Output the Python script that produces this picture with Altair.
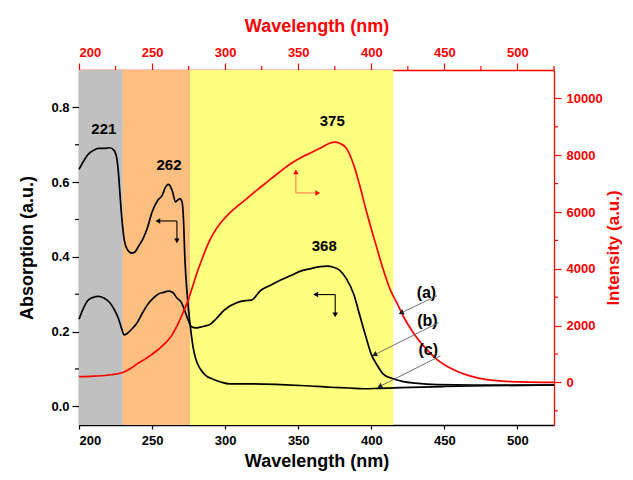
import math
import altair as alt
import pandas as pd

# ---------------- data ----------------
# curve (a): fluorescence intensity (red, top/right axes)
wl_a = [200, 210, 222, 230, 235, 240, 247, 254, 259, 263, 267, 270, 274, 277, 281, 285, 288,
        292, 297, 303, 309, 315, 322, 329, 337, 345, 352, 360, 367, 372, 375, 378, 383, 388,
        392, 396, 400, 404, 408, 413, 418, 422, 428, 434, 440, 445, 452, 459, 468, 479, 495, 525]
int_a = [200, 220, 270, 350, 480, 660, 880, 1150, 1380, 1620, 1980, 2320, 2800, 3260, 3900, 4450, 4840,
         5250, 5620, 5960, 6230, 6480, 6780, 7070, 7400, 7710, 7920, 8120, 8300, 8430, 8460, 8430, 8240, 7650,
         6950, 6150, 5400, 4700, 4000, 3260, 2750, 2320, 1800, 1385, 1050, 800, 560, 387, 220, 95, 30, 0]

# curve (b): absorption with 368 nm band
wl_b = [200, 203, 206, 210, 213, 217, 221, 224, 227, 229, 231, 233, 236, 240, 243, 248, 251, 254, 258,
        261, 264, 267, 270, 272, 274, 277, 280, 283, 286, 290, 294, 299, 303, 306, 310, 314, 318, 320,
        322, 324, 330, 338, 345, 351, 358, 365, 370, 374, 378, 383, 388, 392, 396, 400, 404, 408, 414,
        422, 430, 445, 470, 500, 525]
abs_b = [0.233, 0.262, 0.283, 0.292, 0.294, 0.29, 0.278, 0.26, 0.235, 0.21, 0.191, 0.195, 0.206, 0.225,
         0.247, 0.278, 0.29, 0.30, 0.305, 0.308, 0.305, 0.29, 0.278, 0.26, 0.238, 0.213, 0.21, 0.212, 0.215,
         0.22, 0.235, 0.256, 0.268, 0.274, 0.28, 0.283, 0.284, 0.29, 0.3, 0.309, 0.322, 0.338, 0.35, 0.361,
         0.368, 0.374, 0.375, 0.372, 0.365, 0.341, 0.3, 0.245, 0.19, 0.139, 0.11, 0.087, 0.075, 0.066,
         0.062, 0.058, 0.057, 0.057, 0.057]

# curve (c): absorption with 221 / 262 nm bands
wl_c = [200, 203, 206, 210, 213, 217, 221, 224, 226, 227, 228, 229, 230, 231, 233, 236, 238, 241, 244,
        247, 250, 254, 257, 259, 261, 262, 264, 266, 267, 269, 270.5, 271.5, 272.4, 274, 276, 278, 280,
        283, 286, 292, 297, 303, 320, 338, 355, 372, 385, 395, 405, 420, 450, 480, 525]
abs_c = [0.634, 0.655, 0.673, 0.685, 0.69, 0.69, 0.692, 0.685, 0.66, 0.624, 0.57, 0.517, 0.475, 0.444,
         0.42, 0.41, 0.412, 0.43, 0.45, 0.48, 0.52, 0.552, 0.565, 0.585, 0.594, 0.592, 0.574, 0.547, 0.55,
         0.556, 0.547, 0.5, 0.40, 0.3, 0.22, 0.16, 0.125, 0.1, 0.085, 0.072, 0.065, 0.06, 0.06, 0.058,
         0.055, 0.051, 0.049, 0.047, 0.048, 0.05, 0.053, 0.055, 0.057]

# shaded regions
band_start = [200, 230, 276]
band_end = [230, 276, 415]
band_color = ["#C0C0C0", "#FFBF80", "#FFFF80"]

# peak labels (absorption coordinates)
peak_text = ["221", "262", "375", "368"]
peak_x = [217, 261.6, 373.3, 367.8]
peak_y = [0.743, 0.646, 0.764, 0.428]

# curve labels and pointers
lab_text = ["(a)", "(b)", "(c)"]
lab_x = [437.7, 438.4, 439.0]
lab_y = [0.304, 0.229, 0.151]
ptr_x0 = [444.9, 446.1, 447.3]
ptr_y0 = [0.296, 0.224, 0.135]
ptr_x1 = [420.9, 402.7, 406.2]
ptr_y1 = [0.251, 0.139, 0.054]

# axis indicator arrows (segments: x0, y0, x1, y1, colour)
ind_x0 = [267, 267, 375.3, 375.3, 348.4, 348.4]
ind_y0 = [0.496, 0.496, 0.299, 0.299, 0.571, 0.571]
ind_x1 = [254.5, 267, 362.5, 375.3, 348.4, 362.8]
ind_y1 = [0.496, 0.445, 0.299, 0.247, 0.625, 0.571]
ind_col = ["black", "black", "black", "black", "#FF7F50", "#FF7F50"]
ind_head = ["black", "black", "black", "black", "red", "red"]

x_major = [200, 250, 300, 350, 400, 450, 500]
x_minor = [225, 275, 325, 375, 425, 475, 525]
yl_major = [0.0, 0.2, 0.4, 0.6, 0.8]
yl_minor = [0.1, 0.3, 0.5, 0.7]
yr_major = [0, 2000, 4000, 6000, 8000, 10000]
yr_minor = [-1000, 1000, 3000, 5000, 7000, 9000]

XD = [200, 525]
YL = [-0.05, 0.9]
YR = [-1500, 11000]
W, H = 475, 355
FONT = "Liberation Sans"
RED = "#FF0000"


def xs():
    return alt.Scale(domain=XD, nice=False, zero=False)


def yls():
    return alt.Scale(domain=YL, nice=False, zero=False)


def yrs():
    return alt.Scale(domain=YR, nice=False, zero=False)


def angle(x0, y0, x1, y1):
    dx = (x1 - x0) * W / (XD[1] - XD[0])
    dy = -(y1 - y0) * H / (YL[1] - YL[0])
    return math.degrees(math.atan2(dx, -dy)) % 360


# ---------------- layers ----------------
bands = alt.Chart(pd.DataFrame({"x0": band_start, "x1": band_end, "c": band_color})).mark_rect().encode(
    x=alt.X("x0:Q", scale=xs(), axis=None),
    x2="x1:Q",
    color=alt.Color("c:N", scale=None, legend=None),
)

df_bc = pd.concat([
    pd.DataFrame({"wl": wl_b, "A": abs_b, "s": "b"}),
    pd.DataFrame({"wl": wl_c, "A": abs_c, "s": "c"}),
])

axis_common = dict(
    labelFont=FONT, labelFontSize=13, labelFontWeight="bold",
    titleFont=FONT, titleFontWeight="bold",
    grid=False, domainWidth=1.3, tickWidth=1.2,
)

black = alt.Chart(df_bc).mark_line(color="black", strokeWidth=1.7, interpolate="monotone").encode(
    x=alt.X("wl:Q", scale=xs(), axis=alt.Axis(
        orient="bottom", values=x_major, format="d", title="Wavelength (nm)",
        domainColor="black", tickColor="black", labelColor="black", titleColor="black",
        tickSize=4, labelPadding=5, titlePadding=5, titleFontSize=18, **axis_common)),
    y=alt.Y("A:Q", scale=yls(), axis=alt.Axis(
        orient="left", values=yl_major, format=".1f", title="Absorption (a.u.)",
        domainColor="black", tickColor="black", labelColor="black", titleColor="black",
        tickSize=7, labelPadding=3, titlePadding=14, titleFontSize=18, **axis_common)),
    detail="s:N",
)

red = alt.Chart(pd.DataFrame({"wl": wl_a, "I": int_a})).mark_line(
    color=RED, strokeWidth=1.7, interpolate="monotone").encode(
    x=alt.X("wl:Q", scale=xs(), axis=alt.Axis(
        orient="top", values=x_major, format="d", title="Wavelength (nm)",
        domainColor=RED, tickColor=RED, labelColor=RED, titleColor=RED,
        tickSize=7, labelPadding=4, titlePadding=11, titleFontSize=18, **axis_common)),
    y=alt.Y("I:Q", scale=yrs(), axis=alt.Axis(
        orient="right", values=yr_major, format="d", title="Intensity (a.u.)",
        domainColor=RED, tickColor=RED, labelColor=RED, titleColor=RED,
        tickSize=7, labelPadding=5, titlePadding=3, titleFontSize=17,
        titleAngle=270, titleBaseline="top", **axis_common)),
)

minor_left = alt.Chart(pd.DataFrame({"v": yl_minor})).mark_rule(color="black", strokeWidth=1.2).encode(
    y=alt.Y("v:Q", scale=yls(), axis=None), x=alt.value(-4), x2=alt.value(0))
minor_right = alt.Chart(pd.DataFrame({"v": yr_minor})).mark_rule(color=RED, strokeWidth=1.2).encode(
    y=alt.Y("v:Q", scale=yrs(), axis=None), x=alt.value(W), x2=alt.value(W + 4))
minor_top = alt.Chart(pd.DataFrame({"v": x_minor})).mark_rule(color=RED, strokeWidth=1.2).encode(
    x=alt.X("v:Q", scale=xs(), axis=None), y=alt.value(-4), y2=alt.value(0))

peaks = alt.Chart(pd.DataFrame({"t": peak_text, "x": peak_x, "y": peak_y})).mark_text(
    font=FONT, fontSize=15, fontWeight="bold", color="black").encode(
    x=alt.X("x:Q", scale=xs(), axis=None), y=alt.Y("y:Q", scale=yls(), axis=None), text="t:N")

labels = alt.Chart(pd.DataFrame({"t": lab_text, "x": lab_x, "y": lab_y})).mark_text(
    font=FONT, fontSize=16, fontWeight="bold", color="black").encode(
    x=alt.X("x:Q", scale=xs(), axis=None), y=alt.Y("y:Q", scale=yls(), axis=None), text="t:N")

df_ptr = pd.DataFrame({"x0": ptr_x0, "y0": ptr_y0, "x1": ptr_x1, "y1": ptr_y1})
df_ptr["ang"] = [angle(a, b, c, d) for a, b, c, d in zip(ptr_x0, ptr_y0, ptr_x1, ptr_y1)]
pointers = alt.Chart(df_ptr).mark_rule(color="#606060", strokeWidth=0.9).encode(
    x=alt.X("x0:Q", scale=xs(), axis=None), y=alt.Y("y0:Q", scale=yls(), axis=None),
    x2="x1:Q", y2="y1:Q")
ptr_heads = alt.Chart(df_ptr).mark_point(shape="triangle", filled=True, opacity=1, size=35,
                                         color="#202020").encode(
    x=alt.X("x1:Q", scale=xs(), axis=None), y=alt.Y("y1:Q", scale=yls(), axis=None),
    angle=alt.Angle("ang:Q", scale=None))

df_ind = pd.DataFrame({"x0": ind_x0, "y0": ind_y0, "x1": ind_x1, "y1": ind_y1,
                       "c": ind_col, "h": ind_head})
df_ind["ang"] = [angle(a, b, c, d) for a, b, c, d in zip(ind_x0, ind_y0, ind_x1, ind_y1)]
ind_lines = alt.Chart(df_ind).mark_rule(strokeWidth=1.1).encode(
    x=alt.X("x0:Q", scale=xs(), axis=None), y=alt.Y("y0:Q", scale=yls(), axis=None),
    x2="x1:Q", y2="y1:Q", color=alt.Color("c:N", scale=None, legend=None))
ind_heads = alt.Chart(df_ind).mark_point(shape="triangle", filled=True, opacity=1, size=30).encode(
    x=alt.X("x1:Q", scale=xs(), axis=None), y=alt.Y("y1:Q", scale=yls(), axis=None),
    angle=alt.Angle("ang:Q", scale=None), color=alt.Color("h:N", scale=None, legend=None))

chart = alt.layer(
    bands, minor_left, minor_right, minor_top, black, red, peaks, labels,
    pointers, ptr_heads, ind_lines, ind_heads,
).resolve_scale(
    x="independent", y="independent", color="independent"
).properties(
    width=W, height=H,
    autosize=alt.AutoSizeParams(type="none"),
    padding={"left": 71, "top": 62, "right": 71, "bottom": 47},
    background="white",
).configure_view(stroke=None)

chart.save("out.html", embed_options={"renderer": "svg", "actions": False})
